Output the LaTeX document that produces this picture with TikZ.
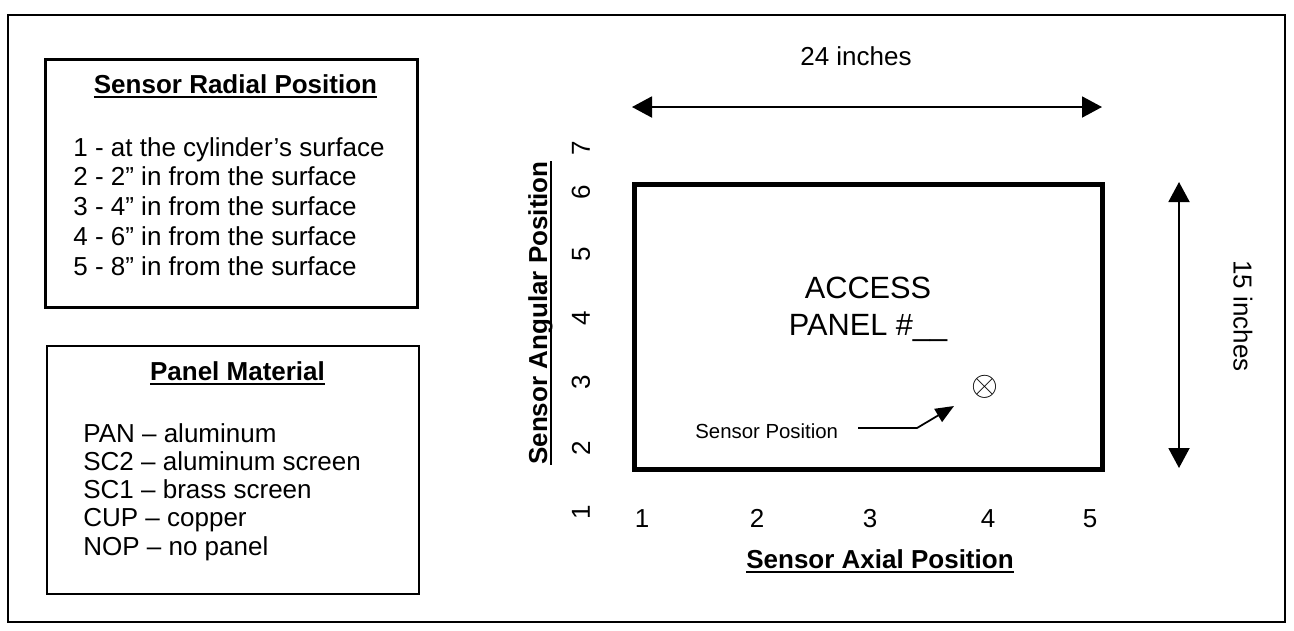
\documentclass[tikz,border=0pt]{standalone}
\usepackage{fontspec}
\setmainfont{Liberation Sans}
\usetikzlibrary{arrows.meta}
\newsavebox\ulbox
\newcommand{\ulttl}[1]{\sbox\ulbox{#1}\usebox\ulbox\llap{\rule[-3.1pt]{\wd\ulbox}{1.6pt}}}

\begin{document}
\begin{tikzpicture}[x=0.02cm, y=-0.02cm,
  txt/.style={font=\fontsize{14.8}{17}\selectfont, inner sep=0pt},
  ttl/.style={font=\fontsize{14.8}{17}\selectfont\bfseries, inner sep=0pt, anchor=base},
  legend/.style={draw, line width=1.2pt, minimum width=7.44cm, minimum height=4.96cm},
  dim/.style={{Triangle[length=4mm,width=4.2mm]}-{Triangle[length=4mm,width=4.2mm]}, line width=1.1pt},
  ptr/.style={-{Triangle[length=3.7mm,width=3mm]}, line width=1pt},
]
\useasboundingbox (0,0) rectangle (1294,630);
\draw[line width=1pt] (8,15) rectangle (1285,622);

\node[legend] (radial) at (231.5,183.5) {};
\node[ttl] (radialttl) at (235.5,93) {\ulttl{Sensor Radial Position}};
\foreach \t [count=\i] in {1 - at the cylinder’s surface, 2 - 2” in from the surface,
  3 - 4” in from the surface, 4 - 6” in from the surface, 5 - 8” in from the surface}{
  \node[txt, anchor=base west] (rad\i) at (73,{156+29.75*(\i-1)}) {\t};
}

\node[legend] (material) at (233,470) {};
\node[ttl] (materialttl) at (237.5,380) {\ulttl{Panel Material}};
\foreach \t [count=\i] in {PAN – aluminum, SC2 – aluminum screen, SC1 – brass screen,
  CUP – copper, NOP – no panel}{
  \node[txt, anchor=base west] (mat\i) at (83,{442+28.25*(\i-1)}) {\t};
}

\node[draw, line width=2.6pt, minimum width=9.37cm, minimum height=5.71cm] (panel) at (868.5,327) {};
\node[inner sep=0pt, anchor=north, align=center, font=\fontsize{17.5}{21}\selectfont] (paneltxt) at (868,277) {ACCESS\\PANEL \#\_\_};
\node[inner sep=0pt] (sensor) at (985,387) {\scalebox{1.14}{\fontsize{17}{17}\selectfont$\otimes$}};
\node[inner sep=0pt, anchor=base west, font=\fontsize{11.6}{14}\selectfont] (sensorlbl) at (695,438) {Sensor Position};
\coordinate (sptail) at (858,428);
\coordinate (sptip) at (954,406);
\draw[ptr] (sptail) -- ++(59,0) -- (sptip);

\coordinate (wleft) at (632,107);
\coordinate (wright) at (1102,107);
\draw[dim] (wleft) -- (wright);
\node[txt, anchor=base] (wlbl) at (856,65) {24 inches};

\coordinate (htop) at (1179,182);
\coordinate (hbot) at (1179,468);
\draw[dim] (htop) -- (hbot);
\node[txt, rotate=-90] (hlbl) at (1243,316) {15 inches};

\foreach \n/\x in {1/642,2/757,3/870,4/988,5/1090}{
  \node[txt, anchor=base] (ax\n) at (\x,527) {\n};
}
\node[ttl] (axialttl) at (880,568) {\ulttl{Sensor Axial Position}};

\foreach \n/\y in {1/512,2/448,3/382,4/318,5/254,6/192,7/148}{
  \node[txt, rotate=90] (ang\n) at (581,\y) {\n};
}
\node[ttl, rotate=90] (angularttl) at (547,313) {\ulttl{Sensor Angular Position}};
\end{tikzpicture}
\end{document}
